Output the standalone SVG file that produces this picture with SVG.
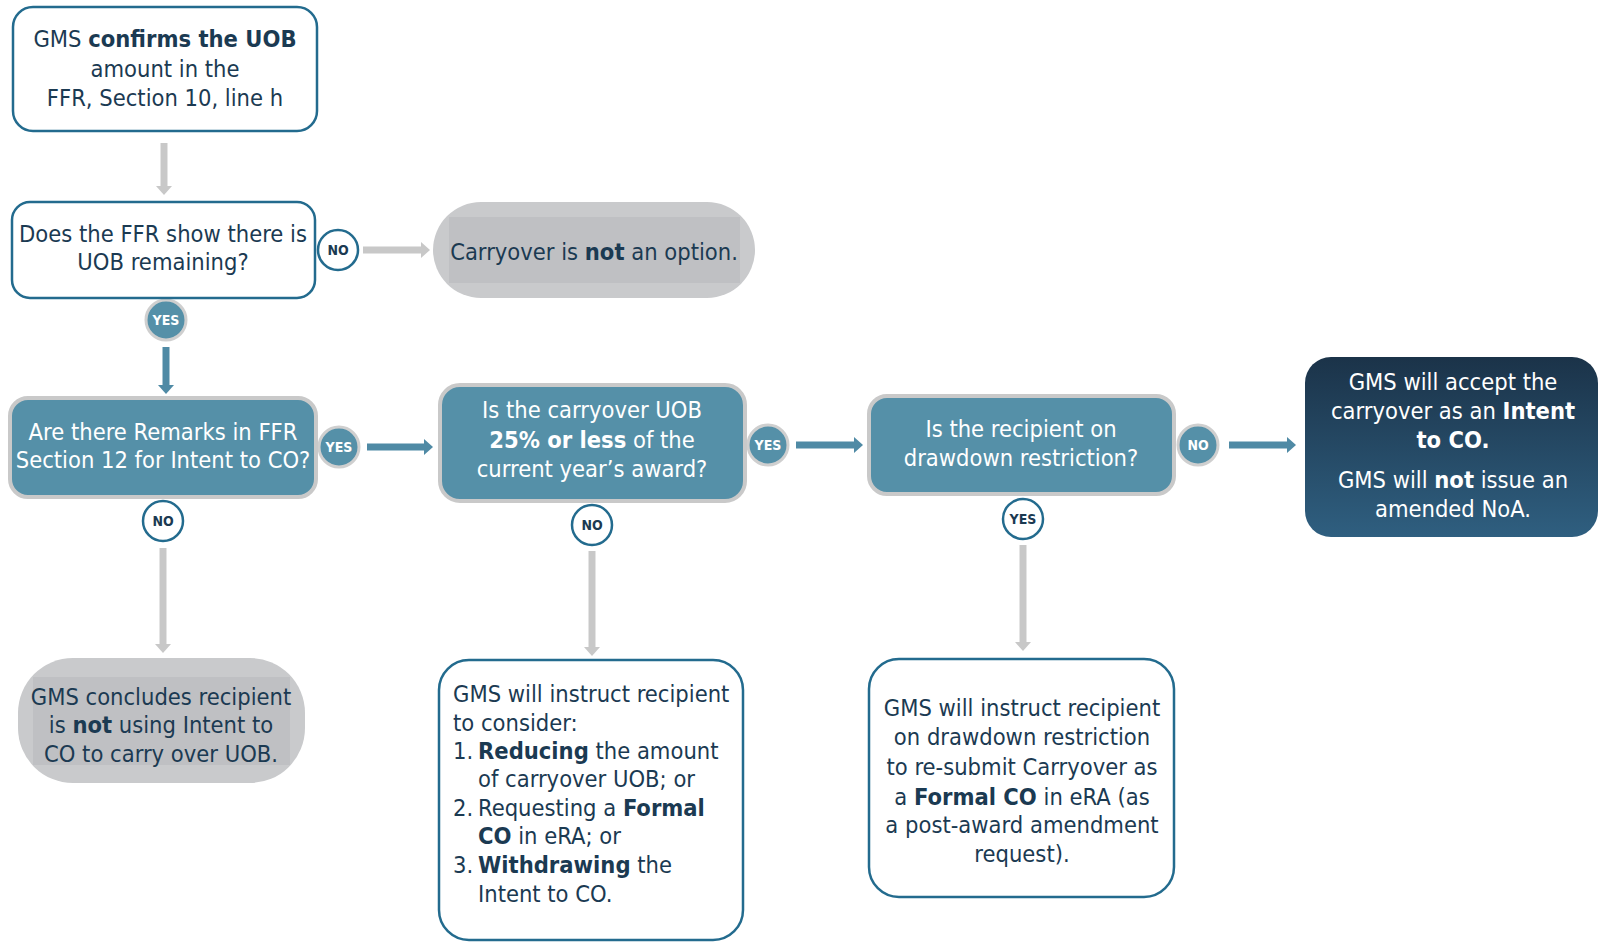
<svg xmlns="http://www.w3.org/2000/svg" width="1598" height="942" viewBox="0 0 1598 942">
<style>
.t{font-family:"DejaVu Sans Condensed","DejaVu Sans",sans-serif;font-stretch:condensed;font-size:23.5px;fill:#1b3a52;text-anchor:middle}
.tw{fill:#ffffff}
.l{text-anchor:start}
.b{font-weight:bold}
.wbox{fill:#ffffff;stroke:#236b8e;stroke-width:2.5}
.tbox{fill:#5590a8;stroke:#c9c9c9;stroke-width:4}
.gpill{fill:#c9cacc}
.ginner{fill:#bfc0c3}
.cw{fill:#ffffff;stroke:#236b8e;stroke-width:2.5}
.ct{fill:#5590a8;stroke:#cfcfcf;stroke-width:3}
.lbl{font-family:"DejaVu Sans Condensed","DejaVu Sans",sans-serif;font-stretch:condensed;font-size:14px;font-weight:bold;text-anchor:middle;fill:#1b3a52}
.lw{fill:#ffffff}
.ag{stroke:#c8c8c8;stroke-width:7;fill:none}
.at{stroke:#4f8aa5;stroke-width:7;fill:none}
</style>
<defs>
<marker id="mg" markerUnits="userSpaceOnUse" markerWidth="10" markerHeight="16" refX="0" refY="8" orient="auto"><path d="M0,0 L9,8 L0,16 Z" fill="#c8c8c8"/></marker>
<marker id="mt" markerUnits="userSpaceOnUse" markerWidth="10" markerHeight="16" refX="0" refY="8" orient="auto"><path d="M0,0 L9,8 L0,16 Z" fill="#4f8aa5"/></marker>
<linearGradient id="gd" x1="0" y1="0" x2="0" y2="1"><stop offset="0" stop-color="#1b3349"/><stop offset="1" stop-color="#2f5f80"/></linearGradient>
</defs>
<rect width="1598" height="942" fill="#ffffff"/>

<g id="connectors">
<line class="ag" x1="164" y1="143" x2="164" y2="186" marker-end="url(#mg)"/>
<line class="ag" x1="363" y1="250" x2="421" y2="250" marker-end="url(#mg)"/>
<line class="at" x1="166" y1="347" x2="166" y2="385" marker-end="url(#mt)"/>
<line class="at" x1="367" y1="447" x2="424" y2="447" marker-end="url(#mt)"/>
<line class="at" x1="796" y1="445" x2="854" y2="445" marker-end="url(#mt)"/>
<line class="at" x1="1229" y1="445" x2="1287" y2="445" marker-end="url(#mt)"/>
<line class="ag" x1="163" y1="548" x2="163" y2="644" marker-end="url(#mg)"/>
<line class="ag" x1="592" y1="551" x2="592" y2="647" marker-end="url(#mg)"/>
<line class="ag" x1="1023" y1="545" x2="1023" y2="642" marker-end="url(#mg)"/>
<g id="lbl-no1"><circle class="cw" cx="338" cy="250" r="20"/><text class="lbl" x="338" y="255">NO</text></g>
<g id="lbl-yes1"><circle class="ct" cx="166" cy="320" r="20"/><text class="lbl lw" x="166" y="325">YES</text></g>
<g id="lbl-yes2"><circle class="ct" cx="339" cy="447" r="20"/><text class="lbl lw" x="339" y="452">YES</text></g>
<g id="lbl-yes3"><circle class="ct" cx="768" cy="445" r="20"/><text class="lbl lw" x="768" y="450">YES</text></g>
<g id="lbl-no2"><circle class="cw" cx="163" cy="521" r="20"/><text class="lbl" x="163" y="526">NO</text></g>
<g id="lbl-no3"><circle class="cw" cx="592" cy="525" r="20"/><text class="lbl" x="592" y="530">NO</text></g>
<g id="lbl-no4"><circle class="ct" cx="1198" cy="445" r="20"/><text class="lbl lw" x="1198" y="450">NO</text></g>
<g id="lbl-yes4"><circle class="cw" cx="1023" cy="519" r="20"/><text class="lbl" x="1023" y="524">YES</text></g>
</g>

<g id="n1">
<rect class="wbox" x="13" y="7" width="304" height="124" rx="20"/>
<text class="t" x="165" y="47">GMS <tspan class="b">confirms the UOB</tspan></text>
<text class="t" x="165" y="77">amount in the</text>
<text class="t" x="165" y="106">FFR, Section 10, line h</text>
</g>

<g id="n2">
<rect class="wbox" x="12" y="202" width="303" height="96" rx="18"/>
<text class="t" x="163" y="242">Does the FFR show there is</text>
<text class="t" x="163" y="270">UOB remaining?</text>
</g>

<g id="n3">
<rect class="gpill" x="433" y="202" width="322" height="96" rx="48"/>
<rect class="ginner" x="449" y="217" width="291" height="66"/>
<text class="t" x="594" y="260">Carryover is <tspan class="b">not</tspan> an option.</text>
</g>

<g id="n4">
<rect class="tbox" x="10" y="398" width="306" height="99" rx="18"/>
<text class="t tw" x="163" y="440">Are there Remarks in FFR</text>
<text class="t tw" x="163" y="468">Section 12 for Intent to CO?</text>
</g>

<g id="n5">
<rect class="tbox" x="440" y="385" width="305" height="116" rx="20"/>
<text class="t tw" x="592" y="418">Is the carryover UOB</text>
<text class="t tw" x="592" y="448"><tspan class="b">25% or less</tspan> of the</text>
<text class="t tw" x="592" y="477">current year’s award?</text>
</g>

<g id="n6">
<rect class="tbox" x="869" y="396" width="305" height="98" rx="18"/>
<text class="t tw" x="1021" y="437">Is the recipient on</text>
<text class="t tw" x="1021" y="466">drawdown restriction?</text>
</g>

<g id="n7">
<rect x="1305" y="357" width="293" height="180" rx="26" fill="url(#gd)"/>
<text class="t tw" x="1453" y="390">GMS will accept the</text>
<text class="t tw" x="1453" y="419">carryover as an <tspan class="b">Intent</tspan></text>
<text class="t tw b" x="1453" y="448">to CO.</text>
<text class="t tw" x="1453" y="488">GMS will <tspan class="b">not</tspan> issue an</text>
<text class="t tw" x="1453" y="517">amended NoA.</text>
</g>

<g id="n8">
<rect class="gpill" x="18" y="658" width="287" height="125" rx="55"/>
<rect class="ginner" x="33" y="677" width="257" height="88"/>
<text class="t" x="161" y="705">GMS concludes recipient</text>
<text class="t" x="161" y="733">is <tspan class="b">not</tspan> using Intent to</text>
<text class="t" x="161" y="762">CO to carry over UOB.</text>
</g>

<g id="n9">
<rect class="wbox" x="439" y="660" width="304" height="280" rx="30"/>
<text class="t l" x="453" y="702">GMS will instruct recipient</text>
<text class="t l" x="453" y="731">to consider:</text>
<text class="t l" x="453" y="759">1.</text><text class="t l" x="478" y="759"><tspan class="b">Reducing</tspan> the amount</text>
<text class="t l" x="478" y="787">of carryover UOB; or</text>
<text class="t l" x="453" y="816">2.</text><text class="t l" x="478" y="816">Requesting a <tspan class="b">Formal</tspan></text>
<text class="t l" x="478" y="844"><tspan class="b">CO</tspan> in eRA; or</text>
<text class="t l" x="453" y="873">3.</text><text class="t l" x="478" y="873"><tspan class="b">Withdrawing</tspan> the</text>
<text class="t l" x="478" y="902">Intent to CO.</text>
</g>

<g id="n10">
<rect class="wbox" x="869" y="659" width="305" height="238" rx="30"/>
<text class="t" x="1022" y="716">GMS will instruct recipient</text>
<text class="t" x="1022" y="745">on drawdown restriction</text>
<text class="t" x="1022" y="775">to re-submit Carryover as</text>
<text class="t" x="1022" y="805">a <tspan class="b">Formal CO</tspan> in eRA (as</text>
<text class="t" x="1022" y="833">a post-award amendment</text>
<text class="t" x="1022" y="862">request).</text>
</g>
</svg>
